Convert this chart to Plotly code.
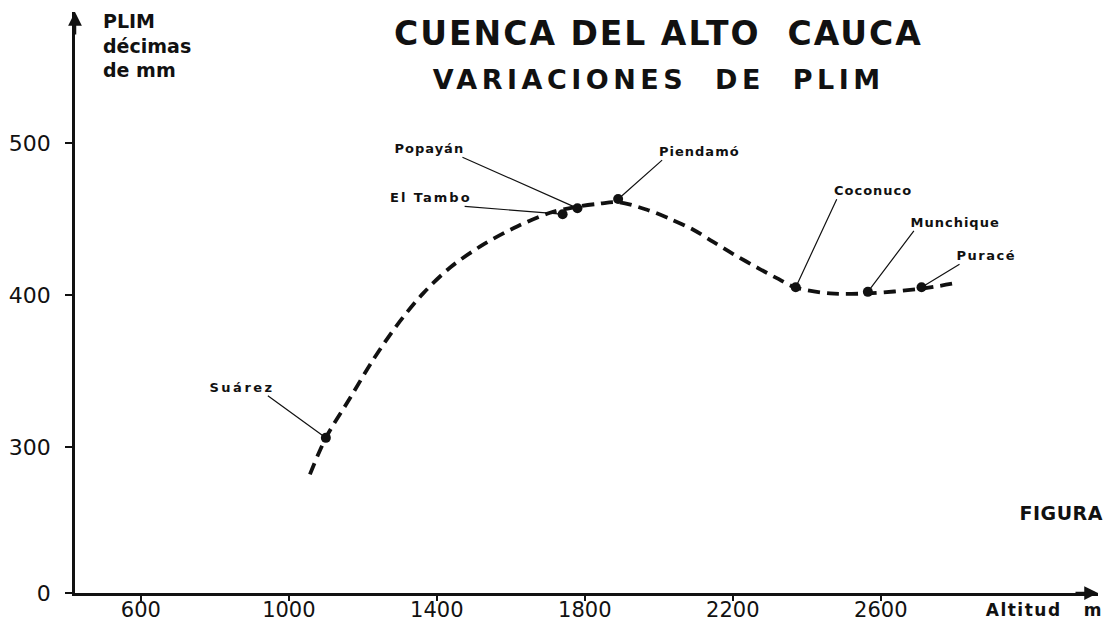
import plotly.graph_objects as go

# Rain-gauge stations: altitude (m) and PLIM (tenths of mm)
stations = ["Suárez", "El Tambo", "Popayán", "Piendamó", "Coconuco", "Munchique", "Puracé"]
station_alt = [1100, 1740, 1780, 1890, 2370, 2565, 2710]
station_plim = [306, 453, 457, 463, 405, 402, 405]

# Hand-fitted trend of PLIM against altitude
curve_alt = [1057, 1100, 1165, 1227, 1292, 1363, 1436, 1525, 1617, 1706, 1780,
             1840, 1890, 1968, 2030, 2092, 2146, 2200, 2273, 2319, 2368, 2463,
             2565, 2706, 2808]
curve_plim = [282, 306, 332, 357, 380, 401, 418, 433, 445, 454, 458,
              460, 461, 456, 450, 443, 435, 427, 417, 411, 405, 401,
              401, 404, 408]

x_ticks = [600, 1000, 1400, 1800, 2200, 2600]
y_ticks = [204, 300, 400, 500]
y_ticktext = ["0", "300", "400", "500"]

# label placement: pixel offset of the leader-line tail from the station dot
label_offsets = {
    "Suárez": (-58, -42, "right"),
    "El Tambo": (-98, -8, "right"),
    "Popayán": (-115, -51, "right"),
    "Piendamó": (44, -39, "left"),
    "Coconuco": (41, -88, "left"),
    "Munchique": (46, -61, "left"),
    "Puracé": (38, -23, "left"),
}

FONT = "DejaVu Sans"
INK = "#111111"

fig = go.Figure()

fig.add_trace(go.Scatter(
    x=curve_alt, y=curve_plim, mode="lines",
    line=dict(color=INK, width=3.8, dash="12px,7px", shape="spline", smoothing=0.9),
    hoverinfo="skip", showlegend=False,
))

fig.add_trace(go.Scatter(
    x=station_alt, y=station_plim, mode="markers",
    marker=dict(color=INK, size=10),
    showlegend=False, hoverinfo="skip",
))

annotations = []
for name, xa, yp in zip(stations, station_alt, station_plim):
    ax, ay, anchor = label_offsets[name]
    annotations.append(dict(
        x=xa, y=yp, xref="x", yref="y", text=name,
        showarrow=True, arrowhead=0, arrowwidth=1.2, arrowcolor=INK,
        ax=ax, ay=ay, xanchor=anchor, yanchor="bottom", standoff=4,
        font=dict(family=FONT, size=13, color=INK, weight="bold"),
        borderpad=0,
    ))


def px_x(p):
    return (p - 75) / 1023


def px_y(p):
    return (593 - p) / 581


annotations += [
    dict(text="CUENCA DEL ALTO\u00a0\u00a0CAUCA", x=px_x(658), y=px_y(34),
         xref="paper", yref="paper", xanchor="center", yanchor="middle", showarrow=False,
         font=dict(family=FONT, size=33, color=INK, weight="bold")),
    dict(text="VARIACIONES\u00a0\u00a0DE\u00a0\u00a0PLIM", x=px_x(658), y=px_y(79),
         xref="paper", yref="paper", xanchor="center", yanchor="middle", showarrow=False,
         font=dict(family=FONT, size=27, color=INK, weight="bold")),
    dict(text="PLIM<br>décimas<br>de mm", x=px_x(101), y=px_y(8),
         xref="paper", yref="paper", xanchor="left", yanchor="top", align="left",
         showarrow=False, font=dict(family=FONT, size=19, color=INK, weight="bold")),
    dict(text="Altitud\u00a0\u00a0\u00a0m", x=px_x(1097), y=px_y(610),
         xref="paper", yref="paper", xanchor="right", yanchor="middle", showarrow=False,
         font=dict(family=FONT, size=17, color=INK, weight="bold")),
    dict(text="FIGURA", x=px_x(1104), y=px_y(513),
         xref="paper", yref="paper", xanchor="right", yanchor="middle", showarrow=False,
         font=dict(family=FONT, size=19, color=INK, weight="bold")),
    # axis arrowheads
    dict(x=1, y=0, xref="paper", yref="paper", ax=-24, ay=0, text="",
         showarrow=True, arrowhead=2, arrowsize=1.1, arrowwidth=2.5, arrowcolor=INK),
    dict(x=0, y=1, xref="paper", yref="paper", ax=0, ay=24, text="",
         showarrow=True, arrowhead=2, arrowsize=1.1, arrowwidth=2.5, arrowcolor=INK),
]

fig.update_layout(
    width=1107, height=627, autosize=False,
    margin=dict(l=75, r=9, t=12, b=34, autoexpand=False),
    paper_bgcolor="white", plot_bgcolor="white",
    annotations=annotations,
    xaxis=dict(
        range=[422, 3187], tickvals=x_ticks, showgrid=False, zeroline=False,
        automargin=False,
        showline=True, linecolor=INK, linewidth=2.5,
        ticks="outside", ticklen=5, tickwidth=2, tickcolor=INK,
        ticklabelstandoff=-9,
        tickfont=dict(family=FONT, size=21, color=INK),
    ),
    yaxis=dict(
        range=[204, 586], tickvals=y_ticks, ticktext=y_ticktext,
        showgrid=False, zeroline=False, automargin=False,
        showline=True, linecolor=INK, linewidth=2.5,
        ticks="outside", ticklen=7, tickwidth=2, tickcolor=INK,
        ticklabelstandoff=10,
        tickfont=dict(family=FONT, size=22, color=INK),
    ),
)

# widen the tracking of the hand-lettered captions
spacing_js = """
var gd = document.getElementById('{plot_id}');
function spreadLetters() {
  var rules = [['CUENCA', 2], ['VARIACIONES', 4.5], ['FIGURA', 0.5], ['Altitud', 1.5],
               ['Su', 2.5], ['El T', 2], ['Pop', 1], ['Pie', 1], ['Coc', 1], ['Mun', 1], ['Pur', 1.5]];
  gd.querySelectorAll('text.annotation-text').forEach(function (t) {
    rules.forEach(function (r) {
      if (t.textContent.indexOf(r[0]) === 0) { t.style.letterSpacing = r[1] + 'px'; }
    });
  });
}
spreadLetters();
gd.on('plotly_afterplot', spreadLetters);
setTimeout(spreadLetters, 30);
"""

fig.write_html("out.html", post_script=spacing_js)
